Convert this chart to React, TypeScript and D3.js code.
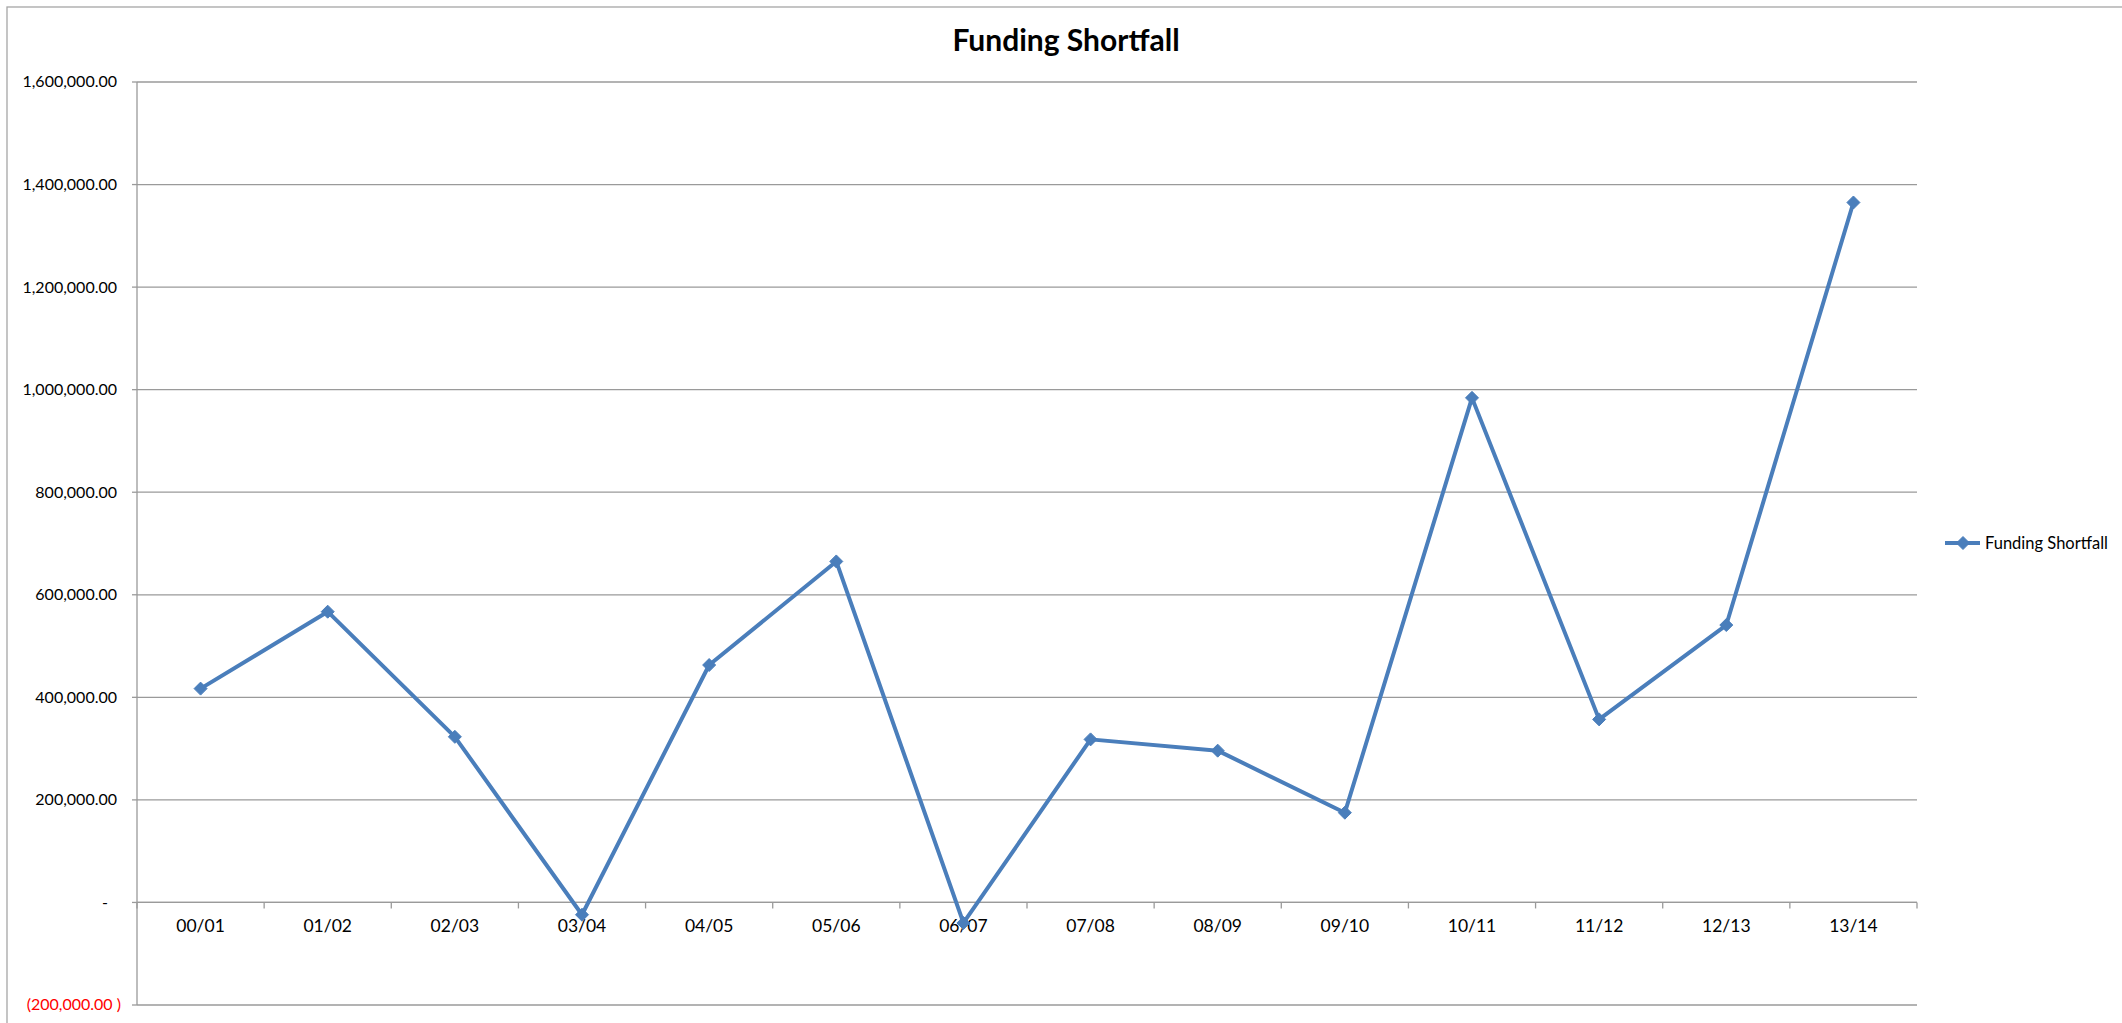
import React from "react";
import * as d3 from "d3";

// Financial years on the category axis
const years = [
  "00/01", "01/02", "02/03", "03/04", "04/05", "05/06", "06/07",
  "07/08", "08/09", "09/10", "10/11", "11/12", "12/13", "13/14",
];

// Funding shortfall per year
const shortfall = [
  417000, 567000, 323000, -24000, 463000, 665000, -40000,
  318000, 296000, 175000, 984000, 357000, 541000, 1365000,
];

// Value-axis ticks
const yTicks = [-200000, 0, 200000, 400000, 600000, 800000, 1000000, 1200000, 1400000, 1600000];

const seriesName = "Funding Shortfall";
const chartTitle = "Funding Shortfall";

const W = 2122;
const H = 1023;
const plot = { left: 137, right: 1917, top: 82, bottom: 1005 };
const FONT = "Lato, Carlito, Calibri, 'Open Sans', sans-serif";
const LINE = "#4A7EBB";
const GRID = "#9A9A9A";

const fmt = d3.format(",.2f");
function accounting(v: number): string {
  if (v === 0) return "-";
  if (v < 0) return `(${fmt(-v)} )`;
  return fmt(v);
}

function Diamond({ x, y, r }: { x: number; y: number; r: number }) {
  const d = `M${x},${y - r}L${x + r},${y}L${x},${y + r}L${x - r},${y}Z`;
  return <path d={d} fill={LINE} stroke={LINE} strokeWidth={1} />;
}

export default function App() {
  const x = d3.scaleBand<string>().domain(years).range([plot.left, plot.right]);
  const y = d3.scaleLinear().domain([-200000, 1600000]).range([plot.bottom, plot.top]);
  const cx = (c: string) => (x(c) as number) + x.bandwidth() / 2;

  const line = d3
    .line<number>()
    .x((_, i) => cx(years[i]))
    .y((v) => y(v));

  const zeroY = y(0);
  const boundaries = d3.range(years.length + 1).map((i) => plot.left + i * x.bandwidth());

  return (
    <div style={{ position: "fixed", left: 0, top: 0 }}>
      <svg width={W} height={H} style={{ display: "block", background: "#fff" }}>
        {/* chart frame */}
        <rect x={7} y={7} width={2118} height={1030} fill="#fff" stroke="#A6A6A6" strokeWidth={1.3} />

        {/* title */}
        <text x={1066} y={51} textAnchor="middle" fontFamily={FONT} fontWeight={700} fontSize={30} fill="#000">
          {chartTitle}
        </text>

        {/* horizontal gridlines */}
        {yTicks.map((t) => (
          <line key={`g${t}`} x1={plot.left} x2={plot.right} y1={y(t)} y2={y(t)} stroke={GRID} strokeWidth={1.3} />
        ))}
        {/* value axis */}
        <line x1={plot.left} x2={plot.left} y1={plot.top} y2={plot.bottom} stroke={GRID} strokeWidth={1.3} />
        {yTicks.map((t) => (
          <line key={`yt${t}`} x1={plot.left - 5} x2={plot.left} y1={y(t)} y2={y(t)} stroke={GRID} strokeWidth={1.3} />
        ))}
        {yTicks.map((t) => {
          const label = accounting(t);
          const neg = t < 0;
          const xPos = t === 0 ? 105 : neg ? 121 : 117;
          return (
            <text
              key={`yl${t}`}
              x={xPos}
              y={y(t)}
              dy="0.34em"
              textAnchor={t === 0 ? "middle" : "end"}
              fontFamily={FONT}
              fontSize={16}
              fill={neg ? "#FF0000" : "#000"}
            >
              {label}
            </text>
          );
        })}

        {/* category axis at zero */}
        <line x1={plot.left} x2={plot.right} y1={zeroY} y2={zeroY} stroke={GRID} strokeWidth={1.3} />
        {boundaries.map((b, i) => (
          <line key={`xt${i}`} x1={b} x2={b} y1={zeroY} y2={zeroY + 6} stroke={GRID} strokeWidth={1.3} />
        ))}
        {years.map((c) => (
          <text key={`xl${c}`} x={cx(c)} y={zeroY + 30} textAnchor="middle" fontFamily={FONT} fontSize={17.5} fill="#000">
            {c}
          </text>
        ))}

        {/* series */}
        <path d={line(shortfall) as string} fill="none" stroke={LINE} strokeWidth={4} strokeLinejoin="round" />
        {shortfall.map((v, i) => (
          <Diamond key={`m${i}`} x={cx(years[i])} y={y(v)} r={6.5} />
        ))}

        {/* legend */}
        <line x1={1945} x2={1980} y1={543} y2={543} stroke={LINE} strokeWidth={4} />
        <Diamond x={1963} y={543} r={6.5} />
        <text x={1985} y={543} dy="0.34em" fontFamily={FONT} fontSize={16.5} fill="#000">
          {seriesName}
        </text>
      </svg>
    </div>
  );
}
